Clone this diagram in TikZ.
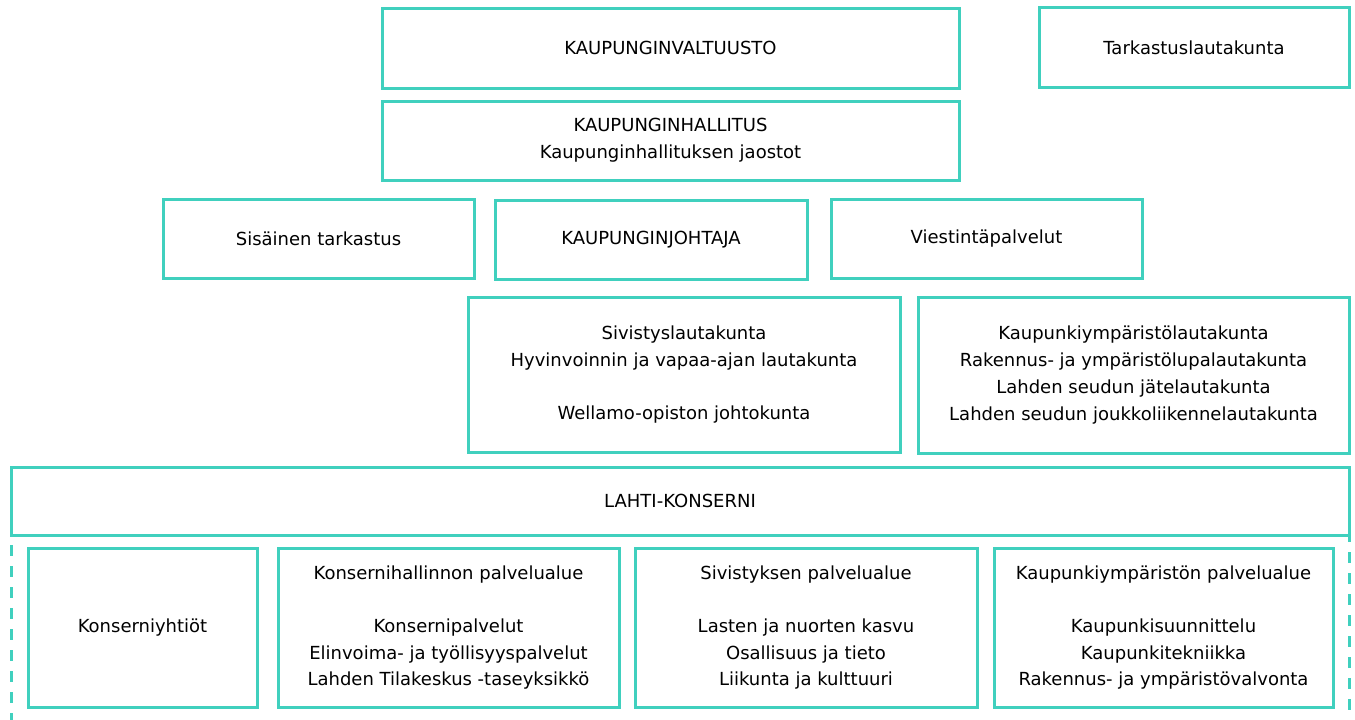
\documentclass[tikz,border=0pt]{standalone}
\usepackage{fontspec}
\setmainfont{DejaVu Sans}
\usepackage{tikz}
\usepackage{xcolor}
\usetikzlibrary{positioning}
\definecolor{turkoosi}{RGB}{64,208,190}

\begin{document}
\begin{tikzpicture}[
    x=1pt, y=-1pt,
    box/.style={rectangle, draw=turkoosi, line width=3pt, inner sep=0pt, outer sep=0pt,
        align=center, font=\fontsize{18}{26.7}\selectfont},
    sivu/.style={draw=turkoosi, line width=3pt, dash pattern=on 11pt off 10pt}
]
    \useasboundingbox (0,0) rectangle (1355,720);

    % Luottamuselimet
    \node[box, minimum width=577pt, minimum height=80pt] (valtuusto) at (670.5,48) {KAUPUNGINVALTUUSTO};
    \node[box, minimum width=310pt, minimum height=80pt] (tarkastuslk) at (1194,47.5) {Tarkastuslautakunta};
    \node[box, minimum width=577pt, minimum height=79pt] (hallitus) at (670.5,140.5) {KAUPUNGINHALLITUS\\Kaupunginhallituksen jaostot};
    \node[box, minimum width=311pt, minimum height=79pt] (sisainen) at (318.5,238.5) {Sisäinen tarkastus};
    \node[box, minimum width=312pt, minimum height=79pt] (johtaja) at (651,239.5) {KAUPUNGINJOHTAJA};
    \node[box, minimum width=311pt, minimum height=79pt] (viestinta) at (986.5,238.5) {Viestintäpalvelut};
    \node[box, minimum width=432pt, minimum height=155pt] (sivistyslk) at (684,374.5) {Sivistyslautakunta\\Hyvinvoinnin ja vapaa-ajan lautakunta\\~\\Wellamo-opiston johtokunta};
    \node[box, minimum width=431pt, minimum height=156pt] (kymplk) at (1133.5,375) {Kaupunkiympäristölautakunta\\Rakennus- ja ympäristölupalautakunta\\Lahden seudun jätelautakunta\\Lahden seudun joukkoliikennelautakunta};

    % Konserni
    \node[box, minimum width=1338pt, minimum height=68pt] (konserni) at (680,501) {LAHTI-KONSERNI};
    \node[box, minimum width=229pt, minimum height=159pt] (yhtiot) at (142.5,627.5) {Konserniyhtiöt};
    \node[box, minimum width=341pt, minimum height=159pt] (konshall) at (448.5,627.5) {Konsernihallinnon palvelualue\\~\\Konsernipalvelut\\Elinvoima- ja työllisyyspalvelut\\Lahden Tilakeskus -taseyksikkö};
    \node[box, minimum width=342pt, minimum height=159pt] (sivistyspa) at (806,627.5) {Sivistyksen palvelualue\\~\\Lasten ja nuorten kasvu\\Osallisuus ja tieto\\Liikunta ja kulttuuri};
    \node[box, minimum width=339pt, minimum height=159pt] (kymppa) at (1163.5,627.5) {Kaupunkiympäristön palvelualue\\~\\Kaupunkisuunnittelu\\Kaupunkitekniikka\\Rakennus- ja ympäristövalvonta};

    % Katkoviivat
    \coordinate (vasenala) at (11,722);
    \coordinate (oikeaala) at (1349,722);
    \draw[sivu, dash phase=11pt] (konserni.south west) -- (vasenala);
    \draw[sivu, dash phase=4pt] (konserni.south east) -- (oikeaala);
\end{tikzpicture}
\end{document}
